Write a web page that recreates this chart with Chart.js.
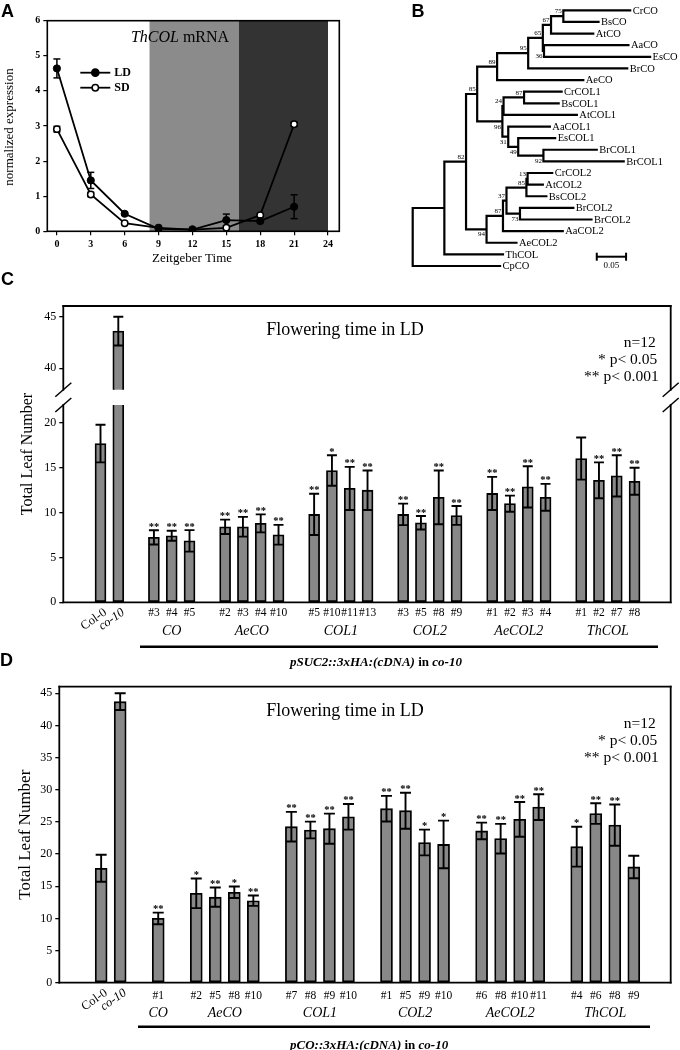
<!DOCTYPE html>
<html>
<head>
<meta charset="utf-8">
<title>ThCOL flowering figure</title>
<script src="https://cdn.jsdelivr.net/npm/chart.js@4.4.1/dist/chart.umd.min.js"></script>
<style>
  html, body { margin: 0; padding: 0; background: #fff; }
  #fig { position: relative; width: 680px; height: 1050px; overflow: hidden; }
  #fig canvas { position: absolute; }
</style>
</head>
<body>
<div id="fig">
  <canvas id="panelA" width="345" height="270" style="left:0;top:0;width:345px;height:270px"></canvas>
  <canvas id="panelB" width="290" height="272" style="left:390px;top:0;width:290px;height:272px"></canvas>
  <canvas id="panelCtop" width="680" height="135" style="left:0;top:265px;width:680px;height:135px"></canvas>
  <canvas id="panelClow" width="680" height="310" style="left:0;top:370px;width:680px;height:310px"></canvas>
  <canvas id="panelD" width="680" height="400" style="left:0;top:650px;width:680px;height:400px"></canvas>
</div>
<script>
// ---------- A: ThCOL mRNA over the day ----------
var zeitgeber = [0, 3, 6, 9, 12, 15, 18, 21];
var ldExpr = [4.64, 1.45, 0.50, 0.07, 0.05, 0.32, 0.29, 0.70];
var ldErr  = [0.27, 0.23, 0.04, 0.02, 0.02, 0.17, 0.04, 0.34];
var sdExpr = [2.91, 1.05, 0.23, 0.10, 0.05, 0.10, 0.46, 3.05];
var sdErr  = [0.08, 0.06, 0.02, 0.02, 0.01, 0.02, 0.03, 0.06];
var zeitTicks = [0, 3, 6, 9, 12, 15, 18, 21, 24];
var exprTicks = [0, 1, 2, 3, 4, 5, 6];
var dimStart = 8.2, darkStart = 16.1, darkEnd = 24;

// ---------- B: neighbour joining tree (branch lengths, bootstrap) ----------
var treeNewick = '(((' +
  '((((((CrCO:0.114,BsCO:0.060)75:0.021,AtCO:0.072)67:0.014,(AaCO:0.144,EsCO:0.181)36:0.002)65:0.025,BrCO:0.169)95:0.053,AeCO:0.147)89:0.034,' +
  '(((CrCOL1:0.064,BsCOL1:0.059)87:0.035,AtCOL1:0.125)24:0.002,(AaCOL1:0.071,(EsCOL1:0.063,(BrCOL1:0.091,BrCOL1:0.137)92:0.043)49:0.017)31:0.010)96:0.043)85:0.019,' +
  '(((((CrCOL2:0.042,AtCOL2:0.026)13:0.002,BsCOL2:0.034)85:0.034,(BrCOL2:0.091,BrCOL2:0.122)73:0.023)37:0.006,AaCOL2:0.102)87:0.028,AeCOL2:0.051)94:0.035)82:0.037,' +
  'ThCOL:0.100):0.054,CpCO:0.149);';
var scaleBarLength = 0.05;

// ---------- C / D: total leaf number ----------
var controls = ['Col-0', 'co-10'];
var geneNames = ['CO', 'AeCO', 'COL1', 'COL2', 'AeCOL2', 'ThCOL'];

var linesC = [['#3', '#4', '#5'], ['#2', '#3', '#4', '#10'], ['#5', '#10', '#11', '#13'],
              ['#3', '#5', '#8', '#9'], ['#1', '#2', '#3', '#4'], ['#1', '#2', '#7', '#8']];
var controlMeanC = [17.7, 43.6];
var controlErrC = [2.1, 1.4];
var meanC = [[7.24, 7.42, 6.85], [8.42, 8.42, 8.8, 7.53], [9.8, 14.7, 12.7, 12.5],
             [9.8, 8.87, 11.7, 9.68], [12.14, 11.0, 12.87, 11.7], [16.03, 13.6, 14.1, 13.5]];
var errC = [[0.8, 0.55, 1.2], [0.8, 1.1, 1.0, 1.1], [2.3, 1.7, 2.4, 2.2],
            [1.2, 0.75, 3.0, 1.05], [1.85, 0.9, 2.3, 1.5], [2.35, 2.0, 2.3, 1.5]];
var sigC = [['**', '**', '**'], ['**', '**', '**', '**'], ['**', '*', '**', '**'],
            ['**', '**', '**', '**'], ['**', '**', '**', '**'], ['', '**', '**', '**']];

var linesD = [['#1'], ['#2', '#5', '#8', '#10'], ['#7', '#8', '#9', '#10'],
              ['#1', '#5', '#9', '#10'], ['#6', '#8', '#10', '#11'], ['#4', '#6', '#8', '#9']];
var controlMeanD = [17.8, 43.7];
var controlErrD = [2.1, 1.3];
var meanD = [[10.0], [13.9, 13.3, 14.06, 12.75], [24.26, 23.75, 23.95, 25.8],
             [27.06, 26.75, 21.8, 21.5], [23.6, 22.4, 25.4, 27.3], [21.15, 26.3, 24.5, 18.0]];
var errD = [[0.9], [2.3, 1.5, 0.9, 0.8], [2.3, 1.3, 2.35, 2.0],
            [2.0, 2.8, 2.0, 3.7], [1.3, 2.3, 2.7, 2.0], [3.1, 1.6, 3.2, 1.75]];
var sigD = [['**'], ['*', '**', '*', '**'], ['**', '**', '**', '**'],
            ['**', '**', '*', '*'], ['**', '**', '**', '**'], ['*', '**', '**', '']];

var leafTicksLow = [0, 5, 10, 15, 20];
var leafTicksHigh = [40, 45];
var leafTicksD = [0, 5, 10, 15, 20, 25, 30, 35, 40, 45];
var statNotes = ['n=12', '* p< 0.05', '** p< 0.001'];

// ---------- helpers ----------
var serif = '"Liberation Serif", "Times New Roman", serif';
var sans = '"Liberation Sans", Arial, sans-serif';

function line(ctx, x1, y1, x2, y2) {
  ctx.beginPath();
  ctx.moveTo(x1, y1);
  ctx.lineTo(x2, y2);
  ctx.stroke();
}

function letter(ctx, txt, x, y) {
  ctx.save();
  ctx.fillStyle = '#000';
  ctx.font = 'bold 18px ' + sans;
  ctx.textAlign = 'left';
  ctx.textBaseline = 'alphabetic';
  ctx.fillText(txt, x, y);
  ctx.restore();
}

function fixedTicks(list) {
  return function(s) { s.ticks = list.map(function(v) { return { value: v }; }); };
}

// ================= panel A =================
var panelAPlugin = {
  id: 'panelA',
  beforeDatasetsDraw: function(chart) {
    var ctx = chart.ctx, a = chart.chartArea, x = chart.scales.x, y = chart.scales.y;
    ctx.save();
    ctx.fillStyle = '#8b8b8b';
    ctx.fillRect(x.getPixelForValue(dimStart), a.top, x.getPixelForValue(darkStart) - x.getPixelForValue(dimStart), a.bottom - a.top);
    ctx.fillStyle = '#333333';
    ctx.fillRect(x.getPixelForValue(darkStart), a.top, x.getPixelForValue(darkEnd) - x.getPixelForValue(darkStart), a.bottom - a.top);

    ctx.strokeStyle = '#000';
    ctx.lineWidth = 1.5;
    chart.data.datasets.forEach(function(ds) {
      ds.data.forEach(function(p, i) {
        var px = x.getPixelForValue(p.x);
        var t = y.getPixelForValue(p.y + ds.errors[i]);
        var b = y.getPixelForValue(p.y - ds.errors[i]);
        line(ctx, px, t, px, b);
        line(ctx, px - 3.5, t, px + 3.5, t);
        line(ctx, px - 3.5, b, px + 3.5, b);
      });
    });
    ctx.restore();
  },
  afterDraw: function(chart) {
    var ctx = chart.ctx, a = chart.chartArea;
    ctx.save();
    ctx.strokeStyle = '#000';
    ctx.lineWidth = 1.6;
    ctx.strokeRect(a.left, a.top, a.right - a.left, a.bottom - a.top);

    ctx.fillStyle = '#000';
    ctx.textBaseline = 'alphabetic';
    ctx.textAlign = 'left';
    ctx.font = 'italic 16px ' + serif;
    var w1 = ctx.measureText('ThCOL').width;
    ctx.font = '16px ' + serif;
    var w2 = ctx.measureText(' mRNA').width;
    var sx = 180 - (w1 + w2) / 2;
    ctx.font = 'italic 16px ' + serif;
    ctx.fillText('ThCOL', sx, 41.5);
    ctx.font = '16px ' + serif;
    ctx.fillText(' mRNA', sx + w1, 41.5);

    // legend
    chart.data.datasets.forEach(function(ds, i) {
      var ly = a.top + 52 + i * 15;
      ctx.lineWidth = 1.8;
      line(ctx, a.left + 33, ly, a.left + 63, ly);
      ctx.beginPath();
      ctx.arc(a.left + 48, ly, ds.pointRadius, 0, Math.PI * 2);
      ctx.fillStyle = ds.pointBackgroundColor;
      ctx.fill();
      ctx.lineWidth = 1.5;
      ctx.stroke();
      ctx.fillStyle = '#000';
      ctx.font = 'bold 12px ' + serif;
      ctx.textBaseline = 'middle';
      ctx.fillText(ds.label, a.left + 67, ly + 0.5);
    });

    ctx.font = '13px ' + serif;
    ctx.textAlign = 'center';
    ctx.textBaseline = 'middle';
    ctx.fillText('Zeitgeber Time', 192, 259);
    ctx.save();
    ctx.translate(9.5, 127);
    ctx.rotate(-Math.PI / 2);
    ctx.fillText('normalized expression', 0, 0);
    ctx.restore();
    ctx.restore();
    letter(ctx, 'A', 1, 17);
  }
};

var axisTicksA = { color: '#000', padding: 3, autoSkip: false, maxRotation: 0, font: { family: serif, size: 10, weight: 'bold' } };
var gridA = { drawOnChartArea: false, tickLength: 4, color: '#000', lineWidth: 1.2 };

new Chart(document.getElementById('panelA'), {
  type: 'line',
  data: {
    datasets: [
      { label: 'LD', data: zeitgeber.map(function(t, i) { return { x: t, y: ldExpr[i] }; }), errors: ldErr,
        borderColor: '#000', borderWidth: 1.8, tension: 0, pointRadius: 3.6,
        pointBackgroundColor: '#000', pointBorderColor: '#000', pointBorderWidth: 1 },
      { label: 'SD', data: zeitgeber.map(function(t, i) { return { x: t, y: sdExpr[i] }; }), errors: sdErr,
        borderColor: '#000', borderWidth: 1.8, tension: 0, pointRadius: 3.2,
        pointBackgroundColor: '#fff', pointBorderColor: '#000', pointBorderWidth: 1.5 }
    ]
  },
  options: {
    responsive: false, animation: false, events: [],
    layout: { padding: { left: 0, top: 20.7, right: 5.7, bottom: 0 } },
    plugins: { legend: { display: false }, tooltip: { enabled: false } },
    scales: {
      x: { type: 'linear', min: -0.85, max: 25, afterBuildTicks: fixedTicks(zeitTicks),
           afterFit: function(s) { s.height = 38.7; }, border: { display: false }, grid: gridA, ticks: axisTicksA },
      y: { type: 'linear', min: 0, max: 6, afterBuildTicks: fixedTicks(exprTicks),
           afterFit: function(s) { s.width = 47.3; }, border: { display: false }, grid: gridA, ticks: axisTicksA }
    }
  },
  plugins: [panelAPlugin]
});

// ================= panel B =================
function parseNewick(s) {
  var i = 0;
  function node() {
    var n = { children: [], name: '', len: 0 };
    if (s[i] === '(') {
      i++;
      n.children.push(node());
      while (s[i] === ',') { i++; n.children.push(node()); }
      i++;
    }
    var m = /^[^:,();]*/.exec(s.slice(i));
    n.name = m[0];
    i += m[0].length;
    if (s[i] === ':') {
      i++;
      var m2 = /^[0-9.eE+-]+/.exec(s.slice(i));
      n.len = parseFloat(m2[0]);
      i += m2[0].length;
    }
    return n;
  }
  return node();
}

var tree = parseNewick(treeNewick);
var treeNodes = [];
var leafCount = 0;
function placeNode(n, x0, upper) {
  n.x = x0 + n.len;
  n.upper = upper;
  treeNodes.push(n);
  if (!n.children.length) {
    n.y = leafCount++;
  } else {
    n.children.forEach(function(c, k) { placeNode(c, n.x, k === 0); });
    n.y = (n.children[0].y + n.children[n.children.length - 1].y) / 2;
  }
}
placeNode(tree, 0, true);

var treeSegs = [];
treeNodes.forEach(function(n) {
  if (!n.children.length) return;
  var f = n.children[0], l = n.children[n.children.length - 1];
  treeSegs.push({ x: n.x, y: f.y }, { x: n.x, y: l.y }, { x: n.x, y: null });
  n.children.forEach(function(c) {
    treeSegs.push({ x: n.x, y: c.y }, { x: c.x, y: c.y }, { x: c.x, y: null });
  });
});

var barStart = 0.314, barRow = 21.2;

new Chart(document.getElementById('panelB'), {
  type: 'line',
  data: {
    datasets: [
      { data: treeSegs, borderColor: '#000', borderWidth: 2.2, borderCapStyle: 'square',
        pointRadius: 0, tension: 0, spanGaps: false, clip: false },
      { data: [{ x: barStart, y: barRow }, { x: barStart + scaleBarLength, y: barRow }],
        borderColor: '#000', borderWidth: 2, pointRadius: 0, clip: false }
    ]
  },
  options: {
    responsive: false, animation: false, events: [],
    layout: { padding: { left: 22.7, top: 10.3, right: 0, bottom: 6 } },
    plugins: { legend: { display: false }, tooltip: { enabled: false } },
    scales: {
      x: { type: 'linear', min: 0, max: 0.456, display: false },
      y: { type: 'linear', min: 0, max: leafCount - 1, reverse: true, display: false }
    }
  },
  plugins: [{
    id: 'treeText',
    afterDatasetsDraw: function(chart) {
      var ctx = chart.ctx, x = chart.scales.x, y = chart.scales.y;
      ctx.save();
      ctx.fillStyle = '#000';
      ctx.strokeStyle = '#000';
      ctx.font = '10.5px ' + serif;
      ctx.textAlign = 'left';
      ctx.textBaseline = 'middle';
      treeNodes.forEach(function(n) {
        if (!n.children.length) ctx.fillText(n.name, x.getPixelForValue(n.x) + 2.5, y.getPixelForValue(n.y) + 0.5);
      });
      ctx.font = '7px ' + serif;
      ctx.textAlign = 'right';
      treeNodes.forEach(function(n) {
        if (!n.children.length || !n.name) return;
        var px = x.getPixelForValue(n.x) - 1.5, py = y.getPixelForValue(n.y);
        if (n.upper) { ctx.textBaseline = 'bottom'; ctx.fillText(n.name, px, py - 1.2); }
        else { ctx.textBaseline = 'top'; ctx.fillText(n.name, px, py + 1.8); }
      });
      // scale bar caps and label
      var bx1 = x.getPixelForValue(barStart), bx2 = x.getPixelForValue(barStart + scaleBarLength), by = y.getPixelForValue(barRow);
      ctx.lineWidth = 2;
      line(ctx, bx1, by - 4, bx1, by + 4);
      line(ctx, bx2, by - 4, bx2, by + 4);
      ctx.font = '9px ' + serif;
      ctx.textAlign = 'center';
      ctx.textBaseline = 'alphabetic';
      ctx.fillText(String(scaleBarLength), (bx1 + bx2) / 2, by + 11.5);
      ctx.restore();
      letter(ctx, 'B', 21.5, 17);
    }
  }]
});

// ================= panels C and D =================
function buildBars(ctrlMean, ctrlErr, lines, means, errs, sigs) {
  var bars = [], groups = [];
  controls.forEach(function(c, i) {
    bars.push({ x: i, y: ctrlMean[i], err: ctrlErr[i], sig: '', label: c, control: true });
  });
  var slot = controls.length;
  lines.forEach(function(g, gi) {
    slot++;
    var first = slot;
    g.forEach(function(l, li) {
      bars.push({ x: slot, y: means[gi][li], err: errs[gi][li], sig: sigs[gi][li], label: l, control: false });
      slot++;
    });
    groups.push({ name: geneNames[gi], center: (first + slot - 1) / 2 });
  });
  return { bars: bars, groups: groups };
}

var dataC = buildBars(controlMeanC, controlErrC, linesC, meanC, errC, sigC);
var dataD = buildBars(controlMeanD, controlErrD, linesD, meanD, errD, sigD);
var italicControls = ['co-10'];

function barDecor(d, o) {
  return {
    id: 'barDecor',
    afterDatasetsDraw: function(chart) {
      var ctx = chart.ctx, a = chart.chartArea, ys = chart.scales.y;
      var els = chart.getDatasetMeta(0).data;
      var hw = o.barWidth / 2 - 0.5;
      ctx.save();
      ctx.beginPath();
      ctx.rect(a.left, a.top, a.right - a.left, a.bottom - a.top);
      ctx.clip();
      ctx.strokeStyle = '#000';
      ctx.lineWidth = 1.9;
      d.bars.forEach(function(b, i) {
        var px = els[i].x;
        var t = ys.getPixelForValue(b.y + b.err), lo = ys.getPixelForValue(b.y - b.err);
        ctx.beginPath();
        ctx.moveTo(px, t); ctx.lineTo(px, lo);
        ctx.moveTo(px - hw, t); ctx.lineTo(px + hw, t);
        ctx.moveTo(px - hw, lo); ctx.lineTo(px + hw, lo);
        ctx.stroke();
      });
      ctx.restore();

      if (o.stars) {
        ctx.save();
        ctx.fillStyle = '#000';
        ctx.font = 'bold 10.5px ' + serif;
        ctx.textAlign = 'center';
        ctx.textBaseline = 'alphabetic';
        d.bars.forEach(function(b, i) {
          if (!b.sig) return;
          var t = ys.getPixelForValue(b.y + b.err);
          if (t < a.top || t > a.bottom) return;
          ctx.fillText(b.sig, els[i].x, t - 0.5);
        });
        ctx.restore();
      }
    },
    afterDraw: function(chart) {
      var ctx = chart.ctx, a = chart.chartArea, xs = chart.scales.x;
      ctx.save();
      ctx.strokeStyle = '#000';
      ctx.fillStyle = '#000';
      ctx.lineWidth = 1.8;
      ctx.lineCap = 'square';
      if (o.frame.indexOf('top') >= 0) line(ctx, a.left, a.top, a.right, a.top);
      if (o.frame.indexOf('bottom') >= 0) line(ctx, a.left, a.bottom, a.right, a.bottom);
      if (o.frame.indexOf('left') >= 0) line(ctx, a.left, a.top, a.left, a.bottom);
      if (o.frame.indexOf('right') >= 0) line(ctx, a.right, a.top, a.right, a.bottom);
      ctx.lineCap = 'butt';
      if (o.breakAt) {
        var yb = o.breakAt === 'top' ? a.top : a.bottom;
        ctx.lineWidth = 1.5;
        [a.left, a.right].forEach(function(xb) { line(ctx, xb - 8, yb + 7, xb + 8, yb - 7); });
      }

      if (o.texts) {
        ctx.textBaseline = 'alphabetic';
        ctx.font = '18px ' + serif;
        ctx.textAlign = 'center';
        ctx.fillText('Flowering time in LD', 345, a.top + 29);
        ctx.font = '15.5px ' + serif;
        ctx.textAlign = 'right';
        statNotes.forEach(function(s, k) { ctx.fillText(s, a.right - 15 + k * 1.5, a.top + 41 + k * 17); });
      }

      if (o.yTitle) {
        ctx.save();
        ctx.font = o.yTitleSize + 'px ' + serif;
        ctx.textAlign = 'center';
        ctx.textBaseline = 'middle';
        ctx.translate(o.yTitleX, o.yTitleY === undefined ? (a.top + a.bottom) / 2 : o.yTitleY);
        ctx.rotate(-Math.PI / 2);
        ctx.fillText('Total Leaf Number', 0, 0);
        ctx.restore();
      }

      if (o.labels) {
        var base = a.bottom;
        d.bars.forEach(function(b) {
          var px = xs.getPixelForValue(b.x);
          if (b.control) {
            ctx.save();
            ctx.translate(px + 5, base + 9);
            ctx.rotate(-35 * Math.PI / 180);
            ctx.font = (italicControls.indexOf(b.label) >= 0 ? 'italic ' : '') + '12.5px ' + serif;
            ctx.textAlign = 'right';
            ctx.textBaseline = 'middle';
            ctx.fillText(b.label, 0, 0);
            ctx.restore();
          } else {
            ctx.font = '11.5px ' + serif;
            ctx.textAlign = 'center';
            ctx.textBaseline = 'middle';
            ctx.fillText(b.label, px, base + o.rowY);
          }
        });
        ctx.font = 'italic 14px ' + serif;
        ctx.textAlign = 'center';
        ctx.textBaseline = 'middle';
        d.groups.forEach(function(g) { ctx.fillText(g.name, xs.getPixelForValue(g.center), base + o.nameY); });
        ctx.lineWidth = 2.5;
        line(ctx, o.ulFrom, base + o.ulY, o.ulTo, base + o.ulY);
        var parts = [[o.construct, 'bold italic'], [' in ', 'bold'], ['co-10', 'bold italic']];
        var cx = 290;
        ctx.textAlign = 'left';
        ctx.textBaseline = 'alphabetic';
        parts.forEach(function(p) {
          ctx.font = p[1] + ' 13px ' + serif;
          ctx.fillText(p[0], cx, base + o.constructY);
          cx += ctx.measureText(p[0]).width;
        });
      }
      ctx.restore();
      if (o.letter) letter(ctx, o.letter[0], o.letter[1], o.letter[2]);
    }
  };
}

function barPanel(id, d, o) {
  return new Chart(document.getElementById(id), {
    type: 'bar',
    data: {
      datasets: [{
        data: d.bars.map(function(b) { return { x: b.x, y: b.y }; }),
        backgroundColor: '#888888', borderColor: '#000', borderWidth: 1.8,
        borderSkipped: false, barThickness: o.barWidth, clip: 0
      }]
    },
    options: {
      responsive: false, animation: false, events: [],
      layout: { padding: { left: 0, right: o.right, top: o.top, bottom: o.bottom } },
      plugins: { legend: { display: false }, tooltip: { enabled: false } },
      scales: {
        x: { type: 'linear', display: false, offset: false, min: o.xMin, max: o.xMax },
        y: {
          type: 'linear', min: o.yMin, max: o.yMax, beginAtZero: false,
          afterBuildTicks: fixedTicks(o.yTicks),
          afterFit: function(s) { s.width = o.axisWidth; },
          border: { display: false },
          grid: { drawOnChartArea: false, tickLength: 4, color: '#000', lineWidth: 1.3 },
          ticks: { color: '#000', padding: 3, font: { family: serif, size: 12 } }
        }
      }
    },
    plugins: [barDecor(d, o)]
  });
}

// C, upper part of the broken axis
barPanel('panelCtop', dataC, {
  barWidth: 11, axisWidth: 63.3, right: 9.3, top: 41, bottom: 10,
  xMin: -2.09, xMax: 32.03, yMin: 37.9, yMax: 46.04, yTicks: leafTicksHigh,
  frame: ['top', 'left', 'right'], breakAt: 'bottom', texts: true, letter: ['C', 1, 20]
});

// C, lower part
barPanel('panelClow', dataC, {
  barWidth: 11, axisWidth: 63.3, right: 9.3, top: 35, bottom: 77.7,
  xMin: -2.09, xMax: 32.03, yMin: 0, yMax: 22, yTicks: leafTicksLow,
  frame: ['bottom', 'left', 'right'], breakAt: 'top', stars: true,
  yTitle: true, yTitleX: 28, yTitleY: 84, yTitleSize: 16,
  labels: true, rowY: 11, nameY: 29.4, ulY: 44.4, ulFrom: 140, ulTo: 658, constructY: 63.7,
  construct: 'pSUC2::3xHA:(cDNA)'
});

// D
barPanel('panelD', dataD, {
  barWidth: 12, axisWidth: 59.3, right: 9.3, top: 36.7, bottom: 67.3,
  xMin: -2.2, xMax: 29.94, yMin: 0, yMax: 46.03, yTicks: leafTicksD,
  frame: ['top', 'bottom', 'left', 'right'], texts: true, stars: true,
  yTitle: true, yTitleX: 26, yTitleSize: 17,
  labels: true, rowY: 13, nameY: 30.6, ulY: 44, ulFrom: 138, ulTo: 650, constructY: 66,
  construct: 'pCO::3xHA:(cDNA)', letter: ['D', 0, 15.5]
});
</script>
</body>
</html>
